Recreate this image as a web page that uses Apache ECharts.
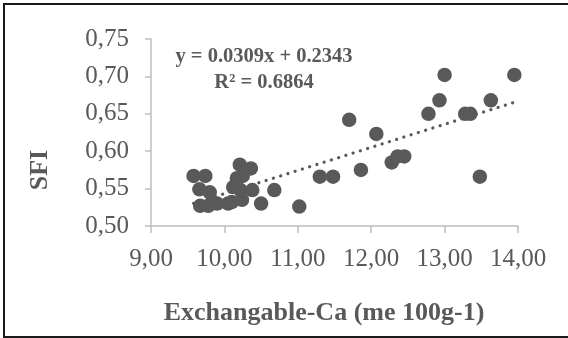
<!DOCTYPE html>
<html>
<head>
<meta charset="utf-8">
<script src="https://cdn.jsdelivr.net/npm/echarts@6/dist/echarts.min.js"></script>
<style>
  html, body { margin: 0; padding: 0; background: #fff; }
  #chart { width: 568px; height: 338px; }
</style>
</head>
<body>
<div id="chart"></div>
<script>
// Exchangeable calcium (me 100g-1) and the matching SFI value for each sample
const calcium = [
  9.58, 9.74, 9.66, 9.80, 9.67, 9.78, 9.90, 10.05, 10.10, 10.21,
  10.36, 10.17, 10.25, 10.12, 10.22, 10.38, 10.24, 10.50, 10.68, 11.02,
  11.30, 11.48, 11.70, 11.86, 12.07, 12.28, 12.36, 12.45, 12.78, 12.93,
  13.00, 13.28, 13.35, 13.48, 13.63, 13.95
];
const sfi = [
  0.567, 0.567, 0.549, 0.545, 0.527, 0.527, 0.530, 0.530, 0.532, 0.582,
  0.577, 0.564, 0.567, 0.552, 0.548, 0.548, 0.535, 0.530, 0.548, 0.526,
  0.566, 0.566, 0.642, 0.575, 0.623, 0.585, 0.593, 0.593, 0.650, 0.668,
  0.702, 0.650, 0.650, 0.566, 0.668, 0.702
];

// Linear trend fitted to the samples
const slope = 0.0309;
const intercept = 0.2343;
const rSquared = 0.6864;

const xTicks = [9, 10, 11, 12, 13, 14];
const yTicks = [0.50, 0.55, 0.60, 0.65, 0.70, 0.75];

const points = calcium.map((c, i) => [c, sfi[i]]);
const xLo = Math.min(...calcium);
const xHi = Math.max(...calcium);
const trend = [[xLo, slope * xLo + intercept], [xHi, slope * xHi + intercept]];

const comma = v => v.toFixed(2).replace('.', ',');
const grey = '#595959';
const axisGrey = '#bfbfbf';
const serif = '"Liberation Serif", "Times New Roman", serif';

const chart = echarts.init(document.getElementById('chart'), null, { renderer: 'canvas' });
chart.setOption({
  animation: false,
  backgroundColor: '#ffffff',
  grid: { left: 151, right: 50, top: 39, bottom: 112 },
  xAxis: {
    type: 'value',
    min: xTicks[0],
    max: xTicks[xTicks.length - 1],
    interval: 1,
    splitLine: { show: false },
    axisLine: { show: true, onZero: false, lineStyle: { color: axisGrey, width: 1.5 } },
    axisTick: { show: true, length: 7, lineStyle: { color: axisGrey, width: 1.5 } },
    axisLabel: { formatter: comma, color: grey, fontFamily: serif, fontSize: 25, margin: 21 }
  },
  yAxis: {
    type: 'value',
    min: yTicks[0],
    max: yTicks[yTicks.length - 1],
    interval: 0.05,
    splitLine: { show: false },
    axisLine: { show: true, onZero: false, lineStyle: { color: axisGrey, width: 1.5 } },
    axisTick: { show: true, length: 6, lineStyle: { color: axisGrey, width: 1.5 } },
    axisLabel: { formatter: comma, color: grey, fontFamily: serif, fontSize: 25, margin: 22 }
  },
  series: [
    {
      type: 'scatter',
      data: points,
      symbol: 'circle',
      symbolSize: 14.5,
      itemStyle: { color: grey, opacity: 1 },
      z: 3
    },
    {
      type: 'line',
      data: trend,
      symbol: 'none',
      lineStyle: { color: grey, width: 3.2, type: [0.1, 7.5], cap: 'round' },
      z: 4
    }
  ],
  graphic: [
    {
      type: 'rect',
      shape: { x: 4, y: 4, width: 600, height: 333 },
      style: { fill: 'none', stroke: '#1a1a1a', lineWidth: 2 },
      silent: true
    },
    {
      type: 'text',
      x: 324, y: 313,
      style: {
        text: 'Exchangable-Ca (me 100g-1)',
        x: 0, y: 0,
        fill: grey, font: 'bold 26px ' + serif,
        align: 'center', verticalAlign: 'middle'
      }
    },
    {
      type: 'text',
      x: 40, y: 170, rotation: Math.PI / 2,
      style: {
        text: 'SFI', x: 0, y: 0,
        fill: grey, font: 'bold 26px ' + serif,
        align: 'center', verticalAlign: 'middle'
      }
    },
    {
      type: 'text',
      x: 264, y: 57,
      style: {
        text: 'y = ' + slope.toFixed(4) + 'x + ' + intercept.toFixed(4),
        x: 0, y: 0,
        fill: grey, font: 'bold 20.5px ' + serif,
        align: 'center', verticalAlign: 'middle'
      }
    },
    {
      type: 'text',
      x: 264, y: 83,
      style: {
        text: 'R² = ' + rSquared.toFixed(4),
        x: 0, y: 0,
        fill: grey, font: 'bold 20.5px ' + serif,
        align: 'center', verticalAlign: 'middle'
      }
    }
  ]
});
</script>
</body>
</html>
